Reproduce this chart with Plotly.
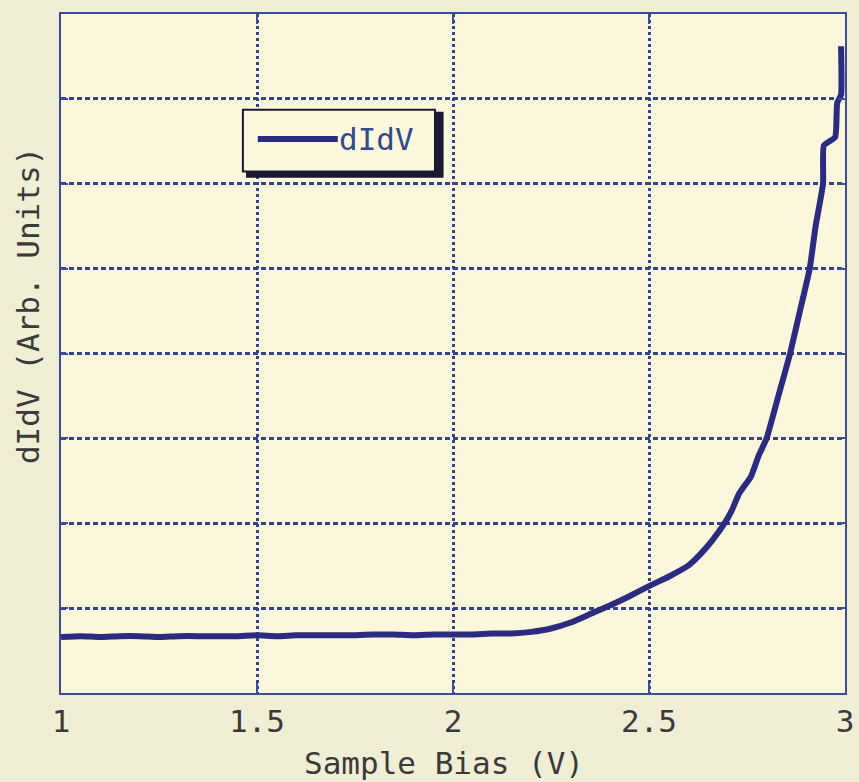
import plotly.graph_objects as go

# Data
bias_v = [1.00, 1.05, 1.10, 1.15, 1.20, 1.25, 1.30, 1.35, 1.40, 1.45, 1.50, 1.55, 1.60,
          1.65, 1.70, 1.75, 1.80, 1.85, 1.90, 1.95, 2.00, 2.05, 2.10, 2.15, 2.20, 2.25,
          2.30, 2.35, 2.40, 2.45, 2.50, 2.55, 2.60, 2.63, 2.66, 2.69, 2.71, 2.73, 2.76,
          2.78, 2.80, 2.83, 2.86, 2.885, 2.91, 2.925, 2.944, 2.946, 2.975, 2.98, 2.99, 2.99]
didv = [0.66, 0.67, 0.66, 0.67, 0.67, 0.66, 0.67, 0.67, 0.67, 0.67, 0.68, 0.67, 0.68,
        0.68, 0.68, 0.68, 0.69, 0.69, 0.68, 0.69, 0.69, 0.69, 0.70, 0.70, 0.72, 0.76,
        0.83, 0.93, 1.03, 1.14, 1.26, 1.37, 1.50, 1.63, 1.79, 1.98, 2.14, 2.35, 2.55,
        2.80, 3.00, 3.50, 4.00, 4.50, 5.00, 5.50, 6.00, 6.45, 6.55, 6.95, 7.05, 7.62]

x_ticks = [1, 1.5, 2, 2.5, 3]
x_tick_labels = ["1", "1.5", "2", "2.5", "3"]
y_ticks = [0, 1, 2, 3, 4, 5, 6, 7, 8]
series_name = "dIdV"

LINE = "#2b2c80"
AXIS = "#3a4c9c"
GRID = "#34448a"
TEXT = "#3a3a3a"
FONT = "DejaVu Sans Mono"

fig = go.Figure()
fig.add_trace(go.Scatter(x=bias_v, y=didv, mode="lines", name=series_name,
                         line=dict(color=LINE, width=6, shape="spline", smoothing=0.4),
                         showlegend=False))

fig.update_layout(
    width=859, height=782,
    margin=dict(l=61, r=14, t=14, b=89, autoexpand=False),
    paper_bgcolor="#f1eed6",
    plot_bgcolor="#faf7dc",
    font=dict(family=FONT, size=30, color=TEXT),
)
fig.update_xaxes(
    range=[1, 3], tickvals=x_ticks, ticktext=x_tick_labels, automargin=False,
    showline=True, linecolor=AXIS, linewidth=2, mirror="ticks",
    ticks="inside", ticklen=10, tickwidth=2, tickcolor=AXIS,
    showgrid=True, gridcolor=GRID, gridwidth=2.5, griddash="3px,3px",
    zeroline=False, tickfont=dict(family=FONT, size=31, color=TEXT),
)
fig.update_yaxes(
    range=[0, 8], tickvals=y_ticks, showticklabels=False, automargin=False,
    showline=True, linecolor=AXIS, linewidth=2, mirror="ticks",
    ticks="inside", ticklen=7, tickwidth=2, tickcolor=AXIS,
    showgrid=True, gridcolor=GRID, gridwidth=2.5, griddash="5px,3px",
    zeroline=False,
)

# Axis titles
fig.add_annotation(text="Sample Bias (V)", xref="paper", yref="paper",
                   x=0.488, y=-0.103, yanchor="middle", showarrow=False,
                   font=dict(family=FONT, size=31, color=TEXT))
fig.add_annotation(text="dIdV (Arb. Units)", xref="paper", yref="paper",
                   x=-0.042, xanchor="center", y=0.57, yanchor="middle",
                   textangle=-90, showarrow=False,
                   font=dict(family=FONT, size=31, color=TEXT))

# Legend box with drop shadow
fig.add_shape(type="rect", xref="paper", yref="paper",
              x0=0.236, x1=0.488, y0=0.759, y1=0.856,
              fillcolor="#1c1830", line=dict(width=0), layer="above")
fig.add_shape(type="rect", xref="paper", yref="paper",
              x0=0.232, x1=0.477, y0=0.768, y1=0.859,
              fillcolor="#fbf8de", line=dict(color="#1c1830", width=2), layer="above")
fig.add_shape(type="line", xref="paper", yref="paper",
              x0=0.251, x1=0.353, y0=0.816, y1=0.816,
              line=dict(color=LINE, width=6), layer="above")
fig.add_annotation(text=series_name, xref="paper", yref="paper",
                   x=0.352, xanchor="left", y=0.816, yanchor="middle",
                   showarrow=False, font=dict(family=FONT, size=31, color="#34498a"))

fig.write_html("out.html")
